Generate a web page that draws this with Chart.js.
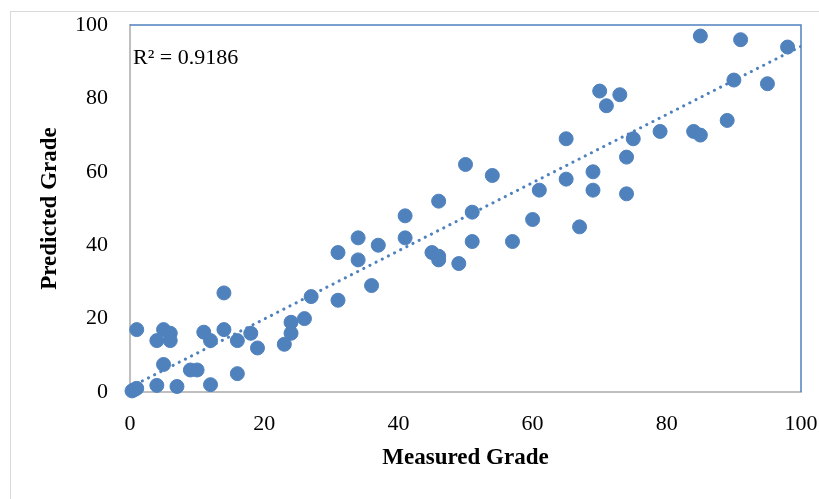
<!DOCTYPE html>
<html>
<head>
<meta charset="utf-8">
<script src="https://cdn.jsdelivr.net/npm/chart.js@4"></script>
<style>
  html, body { margin: 0; padding: 0; background: #fff; }
  #wrap { position: relative; width: 819px; height: 499px; overflow: hidden; }
  #frame { position: absolute; left: 10px; top: 11px; width: 900px; height: 600px; border: 1px solid #d9d9d9; }
  #chartCanvas { position: absolute; left: 0; top: 0; }
</style>
</head>
<body>
<div id="wrap">
  <div id="frame"></div>
  <canvas id="chartCanvas" width="819" height="499"></canvas>
</div>
<script>
// measured (x) vs predicted (y) grades
const measured = [0.3, 0.6, 1, 1, 4, 5, 4, 6, 6, 5, 7, 9, 10, 11, 12, 12, 14, 14, 16, 16,
  18, 19, 23, 24, 24, 26, 27, 31, 31, 34, 34, 36, 37, 41, 41, 45, 46, 46, 46, 49,
  50, 51, 51, 54, 57, 60, 61, 65, 65, 67, 69, 69, 70, 71, 73, 74, 74, 75, 79, 84,
  85, 85, 89, 90, 91, 95, 98];
const predicted = [0.3, 0.6, 1, 17, 1.8, 17, 14, 16, 14, 7.5, 1.5, 6, 6, 16.3, 14, 2, 27, 17, 5, 14,
  16, 12, 13, 16, 19, 20, 26, 25, 38, 36, 42, 29, 40, 42, 48, 38, 37, 36, 52, 35,
  62, 41, 49, 59, 41, 47, 55, 69, 58, 45, 55, 60, 82, 78, 81, 64, 54, 69, 71, 71,
  70, 97, 74, 85, 96, 84, 94];
// dotted linear trendline, ends
const trendX = [0, 100];
const trendY = [1.3, 94.2];
const xTicks = [0, 20, 40, 60, 80, 100];
const yTicks = [0, 20, 40, 60, 80, 100];
const rSquaredLabel = "R\u00B2 = 0.9186";

const blue = "#4f81bd";

const scatterPoints = measured.map((x, i) => ({ x: x, y: predicted[i] }));
const trendPoints = trendX.map((x, i) => ({ x: x, y: trendY[i] }));

// plot-area frame (blue top/right) and R² label
const plotExtras = {
  id: "plotExtras",
  beforeDatasetsDraw(chart) {
    const { ctx, chartArea: a } = chart;
    ctx.save();
    ctx.strokeStyle = blue;
    ctx.lineWidth = 1.5;
    ctx.beginPath();
    ctx.moveTo(a.left, a.top);
    ctx.lineTo(a.right, a.top);
    ctx.lineTo(a.right, a.bottom);
    ctx.stroke();
    ctx.fillStyle = "#000";
    ctx.font = "22px 'Liberation Serif'";
    ctx.textBaseline = "middle";
    ctx.textAlign = "left";
    ctx.fillText(rSquaredLabel, a.left + 3, 58);
    ctx.restore();
  }
};

Chart.defaults.font.family = "'Liberation Serif', 'Times New Roman', serif";
Chart.defaults.color = "#000";

new Chart(document.getElementById("chartCanvas"), {
  type: "scatter",
  data: {
    datasets: [
      {
        label: "Grades",
        data: scatterPoints,
        backgroundColor: blue,
        borderColor: blue,
        pointRadius: 7,
        pointHoverRadius: 7,
        clip: false,
        order: 1
      },
      {
        type: "line",
        label: "Linear trend",
        data: trendPoints,
        borderColor: blue,
        borderWidth: 3,
        borderDash: [0.1, 6.8],
        borderCapStyle: "round",
        pointRadius: 0,
        fill: false,
        order: 2
      }
    ]
  },
  options: {
    responsive: false,
    animation: false,
    layout: { padding: { left: 32, top: 25, right: 3, bottom: 23 } },
    plugins: { legend: { display: false }, tooltip: { enabled: false } },
    scales: {
      x: {
        type: "linear",
        min: 0,
        max: 100,
        afterBuildTicks: s => { s.ticks = xTicks.map(v => ({ value: v })); },
        afterFit: s => { s.height = 84; s.paddingLeft = 0; s.paddingRight = 18; },
        grid: { display: false, drawTicks: false },
        border: { color: "#bfbfbf", width: 2 },
        ticks: { font: { size: 22 }, padding: 19 },
        title: { display: true, text: "Measured Grade", font: { size: 23, weight: "bold" }, padding: { top: 4, bottom: 4 } }
      },
      y: {
        type: "linear",
        min: 0,
        max: 100,
        afterBuildTicks: s => { s.ticks = yTicks.map(v => ({ value: v })); },
        afterFit: s => { s.width = 98; s.paddingTop = 0; s.paddingBottom = 0; },
        grid: { display: false, drawTicks: false },
        border: { color: "#bfbfbf", width: 2 },
        ticks: { font: { size: 22 }, padding: 22 },
        title: { display: true, text: "Predicted Grade", font: { size: 23, weight: "bold" }, padding: { top: 4, bottom: 4 } }
      }
    }
  },
  plugins: [plotExtras]
});
</script>
</body>
</html>
